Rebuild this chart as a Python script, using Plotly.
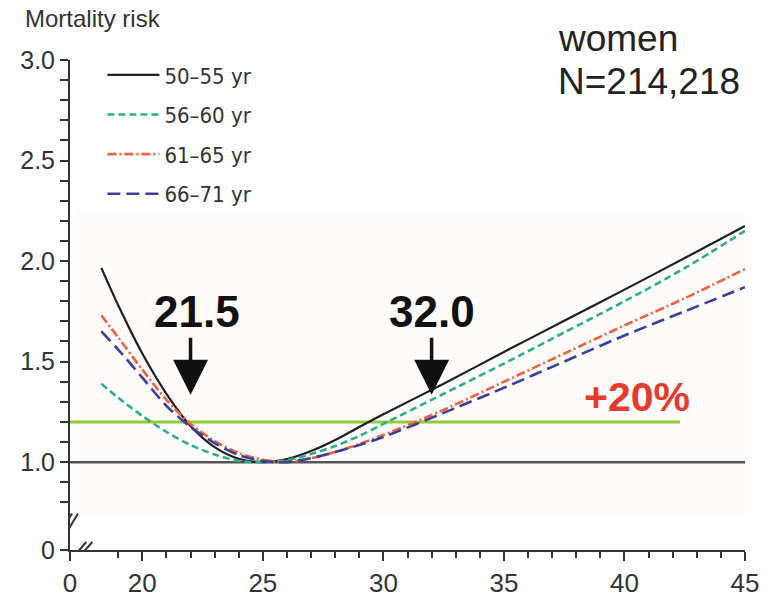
import plotly.graph_objects as go

# ---------------- data ----------------
bmi = [18.3, 19, 20, 21, 22, 23, 24, 25, 26, 27, 28, 29, 30, 32.5, 35, 37.5, 40, 42.5, 45]
risk_50_55 = [1.966, 1.78, 1.54, 1.34, 1.18, 1.075, 1.017, 1.00, 1.015, 1.055, 1.11, 1.175, 1.238, 1.39, 1.548, 1.703, 1.858, 2.015, 2.175]
risk_56_60 = [1.39, 1.32, 1.23, 1.15, 1.085, 1.038, 1.006, 1.00, 1.01, 1.04, 1.08, 1.13, 1.19, 1.34, 1.49, 1.645, 1.80, 1.965, 2.15]
risk_61_65 = [1.73, 1.62, 1.46, 1.31, 1.19, 1.105, 1.045, 1.012, 1.00, 1.02, 1.05, 1.09, 1.135, 1.26, 1.40, 1.54, 1.68, 1.815, 1.96]
risk_66_71 = [1.65, 1.56, 1.42, 1.28, 1.175, 1.095, 1.035, 1.006, 1.00, 1.02, 1.05, 1.085, 1.125, 1.245, 1.37, 1.50, 1.63, 1.75, 1.87]
series_names = ["50\u201355 yr", "56\u201360 yr", "61\u201365 yr", "66\u201371 yr"]

x_tick_vals = [17, 20, 25, 30, 35, 40, 45]
x_tick_text = ["0", "20", "25", "30", "35", "40", "45"]
y_tick_vals = [0.563, 1.0, 1.5, 2.0, 2.5, 3.0]
y_tick_text = ["0", "1.0", "1.5", "2.0", "2.5", "3.0"]

reference_level = 1.0
threshold_level = 1.2
threshold_end = 42.3
cut_low, cut_high = 21.5, 32.0
cut_low_x, cut_high_x = 22.0, 32.0

# ---------------- styles ----------------
colors = ["#1e1e1e", "#2fae86", "#f0613f", "#3b3f95"]
dashes = ["solid", "7px,4px", "9px,3px,2px,3px", "13px,6px"]
widths = [2.2, 2.6, 2.6, 2.6]

fig = go.Figure()
for i, (name, ys) in enumerate(zip(series_names, [risk_50_55, risk_56_60, risk_61_65, risk_66_71])):
    fig.add_trace(go.Scatter(
        x=bmi, y=ys, mode="lines", name=name, legendgroup=name,
        line=dict(color=colors[i], dash=dashes[i], width=widths[i], shape="spline", smoothing=0.8),
    ))

axis_color = "#333333"
font_main = "Liberation Sans, Arial, sans-serif"

minor_x = [v for v in range(19, 45) if v % 5 != 0]
minor_y = [round(0.8 + 0.1 * k, 2) for k in range(22) if round((0.8 + 0.1 * k) * 10) % 5 != 0]

fig.update_layout(
    width=771, height=610,
    margin=dict(l=70, r=16, t=60, b=48),
    paper_bgcolor="white", plot_bgcolor="white",
    showlegend=True,
    legend=dict(x=0.048, y=1.012, xanchor="left", yanchor="top",
                font=dict(family="Liberation Sans Narrow, DejaVu Sans Condensed, sans-serif", size=22, color="#333"),
                tracegroupgap=8, bgcolor="rgba(0,0,0,0)", itemwidth=52),
    xaxis=dict(range=[17, 45], showgrid=False, zeroline=False, showline=True, linecolor=axis_color, linewidth=2,
               tickmode="array", tickvals=x_tick_vals, ticktext=x_tick_text, ticks="outside", ticklen=9,
               tickwidth=2, tickcolor=axis_color, ticklabeloverflow="allow",
               tickfont=dict(family=font_main, size=26, color="#333"),
               minor=dict(tickmode="array", tickvals=minor_x, ticks="outside", ticklen=6, tickwidth=2, tickcolor=axis_color)),
    yaxis=dict(range=[0.563, 3.0], showgrid=False, zeroline=False, showline=True, linecolor=axis_color, linewidth=2,
               tickmode="array", tickvals=y_tick_vals, ticktext=y_tick_text, ticks="outside", ticklen=8,
               tickwidth=2, tickcolor=axis_color,
               tickfont=dict(family=font_main, size=25, color="#333"),
               minor=dict(tickmode="array", tickvals=minor_y, ticks="outside", ticklen=8, tickwidth=2, tickcolor=axis_color)),
)

# faint shaded panel behind curves
fig.add_shape(type="rect", xref="x", yref="y", x0=17.2, x1=45, y0=0.72, y1=2.25,
              fillcolor="rgba(246,228,232,0.16)", line=dict(width=0), layer="below")

# reference lines
fig.add_shape(type="line", x0=17, x1=45, y0=reference_level, y1=reference_level,
              line=dict(color="#555555", width=2.5), layer="below")
fig.add_shape(type="line", x0=17, x1=threshold_end, y0=threshold_level, y1=threshold_level,
              line=dict(color="#93c83a", width=3), layer="below")

# axis break marks
for dx in (-4, 2):
    fig.add_shape(type="line", xref="x", yref="y", xsizemode="pixel", ysizemode="pixel",
                  xanchor=17, yanchor=0.695, x0=dx - 6, x1=dx + 6, y0=-10, y1=10,
                  line=dict(color=axis_color, width=2))
for dx in (-4, 2):
    fig.add_shape(type="line", xref="x", yref="y", xsizemode="pixel", ysizemode="pixel",
                  xanchor=17.55, yanchor=0.563, x0=dx - 7, x1=dx + 7, y0=-8, y1=8,
                  line=dict(color=axis_color, width=2))

# texts
fig.add_annotation(x=-0.070, y=1.084, xref="paper", yref="paper", xanchor="left", yanchor="middle",
                   text="Mortality risk", showarrow=False, font=dict(family=font_main, size=24, color="#333"))
fig.add_annotation(x=0.7197, y=1.044, xref="paper", yref="paper", xanchor="left", yanchor="middle",
                   text="women", showarrow=False, font=dict(family=font_main, size=37, color="#222"))
fig.add_annotation(x=0.7197, y=0.956, xref="paper", yref="paper", xanchor="left", yanchor="middle",
                   text="N=214,218", showarrow=False, font=dict(family=font_main, size=37, color="#222"))

for xv, label, tx in ((cut_low_x, cut_low, 22.28), (cut_high_x, cut_high, 32.02)):
    fig.add_annotation(x=tx, y=1.748, xref="x", yref="y", text=f"<b>{label:.1f}</b>",
                       showarrow=False, font=dict(family=font_main, size=44, color="#111"))
    fig.add_annotation(x=xv, y=1.335, ax=xv, ay=1.626, xref="x", yref="y", axref="x", ayref="y",
                       text="", showarrow=True, arrowhead=2, arrowsize=2.0, arrowwidth=3.5, arrowcolor="#111")

fig.add_annotation(x=40.54, y=1.325, xref="x", yref="y", text="<b>+20%</b>", showarrow=False,
                   font=dict(family=font_main, size=41, color="#e63a2c"))

fig.write_html("out.html")
